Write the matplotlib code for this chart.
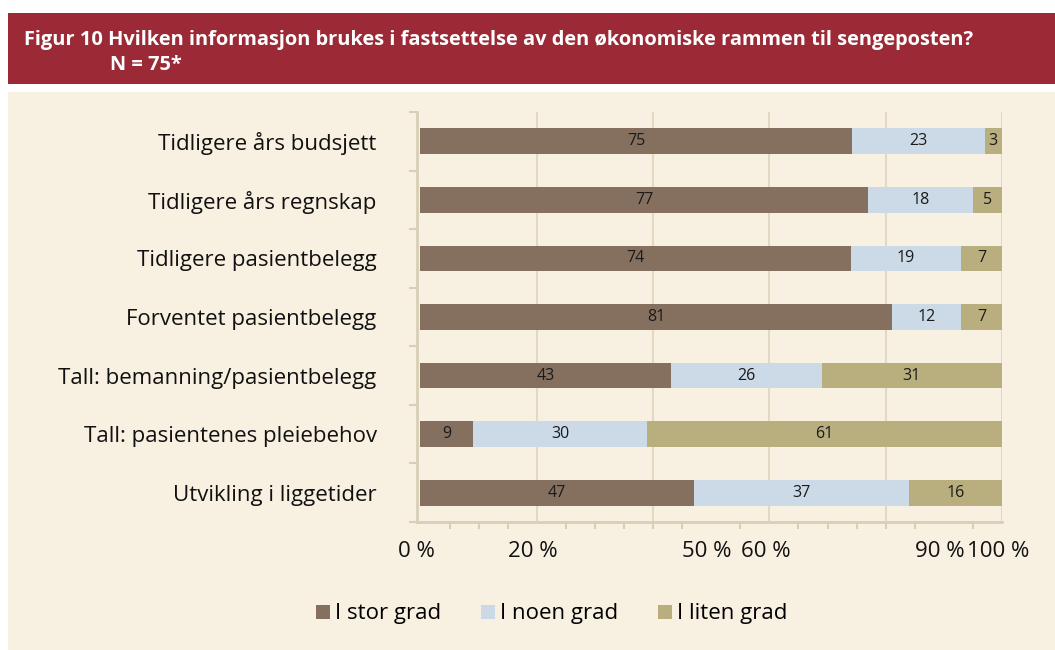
import matplotlib
matplotlib.use("Agg")
import matplotlib.pyplot as plt
import matplotlib.transforms as mtransforms
from matplotlib.patches import Rectangle
import numpy as np

plt.rcParams['font.family'] = ['Open Sans', 'DejaVu Sans']

title_line1 = "Figur 10 Hvilken informasjon brukes i fastsettelse av den økonomiske rammen til sengeposten?"
title_line2 = "N = 75*"

categories = [
    "Tidligere års budsjett",
    "Tidligere års regnskap",
    "Tidligere pasientbelegg",
    "Forventet pasientbelegg",
    "Tall: bemanning/pasientbelegg",
    "Tall: pasientenes pleiebehov",
    "Utvikling i liggetider",
]
series_names = ["I stor grad", "I noen grad", "I liten grad"]
stor = [75, 77, 74, 81, 43, 9, 47]
noen = [23, 18, 19, 12, 26, 30, 37]
liten = [3, 5, 7, 7, 31, 61, 16]
xtick_values = [0, 20, 50, 60, 90, 100]
xtick_labels = ["0 %", "20 %", "50 %", "60 %", "90 %", "100 %"]

colors = ["#857060", "#CCDAE7", "#B9AF7E"]
bg = "#F8F0E1"
red = "#9B2A36"
grid_c = "#E2D9C2"
spine_c = "#D8CFB6"

W, H = 1055, 650
fig = plt.figure(figsize=(W / 100, H / 100), dpi=100)
fig.patch.set_facecolor("white")

# header band and panel
fig.patches.append(Rectangle((8 / W, 1 - 84 / H), 1 - 8 / W, (84 - 13) / H,
                             transform=fig.transFigure, facecolor=red, edgecolor="none", zorder=0))
fig.patches.append(Rectangle((8 / W, 0), 1 - 8 / W, 1 - 92 / H,
                             transform=fig.transFigure, facecolor=bg, edgecolor="none", zorder=0))
fig.text(24 / W, 1 - 45 / H, title_line1, color="white", fontsize=14.4, fontweight="bold",
         ha="left", va="baseline")
fig.text(110 / W, 1 - 70 / H, title_line2, color="white", fontsize=14.4, fontweight="bold",
         ha="left", va="baseline")

ax_left, ax_right, ax_top, ax_bottom = 417, 1002, 112, 522
ax = fig.add_axes([ax_left / W, 1 - ax_bottom / H, (ax_right - ax_left) / W, (ax_bottom - ax_top) / H])
ax.set_facecolor("none")
ax.set_zorder(2)

data = np.array([stor, noen, liten], dtype=float)
totals = data.sum(axis=0)
pct = data / totals * 100
y = np.arange(len(categories))
left = np.zeros(len(categories))
for i, name in enumerate(series_names):
    bars = ax.barh(y, pct[i], left=left, height=0.44, color=colors[i], label=name, zorder=3)
    for j, b in enumerate(bars):
        ax.text(left[j] + pct[i][j] / 2, y[j], str(int(data[i][j])), ha="center", va="center",
                fontsize=11.5, color="#1a1a1a", zorder=4)
    left += pct[i]

ax.set_xlim(-0.6, 100)
ax.set_ylim(len(categories) - 0.5, -0.5)

ax.set_yticks(y)
ax.set_yticklabels(categories, fontsize=16, color="#111111")
ax.set_yticks(np.arange(-0.5, len(categories)), minor=True)
ax.tick_params(axis="y", which="major", length=0, pad=29)
ax.tick_params(axis="y", which="minor", length=6, color=spine_c, width=1.5)

ax.set_xticks(xtick_values)
ax.set_xticklabels(xtick_labels, fontsize=16, color="#111111")
ax.set_xticks(np.arange(0, 101, 5), minor=True)
ax.tick_params(axis="x", which="major", length=0, pad=14)
ax.tick_params(axis="x", which="minor", length=5, color=spine_c, width=1.5, direction="out", pad=2)
shift = mtransforms.ScaledTranslation(-4 / 100, 0, fig.dpi_scale_trans)
for lab in ax.get_xticklabels():
    lab.set_transform(lab.get_transform() + shift)

for xg in [20, 40, 60, 80, 100]:
    ax.axvline(xg, color=grid_c, linewidth=1.5, zorder=1)

for s in ["top", "right"]:
    ax.spines[s].set_visible(False)
for s in ["left", "bottom"]:
    ax.spines[s].set_color(spine_c)
    ax.spines[s].set_linewidth(2)

handles, labels = ax.get_legend_handles_labels()
leg = fig.legend(handles, labels, loc="center", bbox_to_anchor=(552 / W, 1 - 614 / H), ncol=3,
                 frameon=False, fontsize=16, handlelength=0.6, handleheight=0.6,
                 handletextpad=0.25, columnspacing=1.8)

fig.savefig("out.png", dpi=100, facecolor=fig.get_facecolor())
